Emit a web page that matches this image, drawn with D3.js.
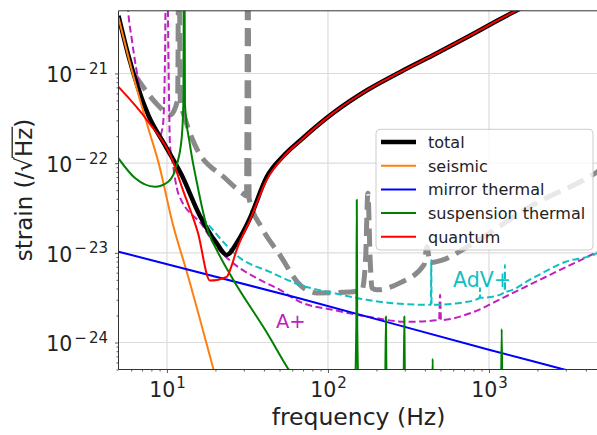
<!DOCTYPE html>
<html><head><meta charset="utf-8">
<script src="https://cdn.jsdelivr.net/npm/d3@7"></script>
<style>
body{margin:0;background:#fff}
svg{display:block}
text{font-family:"DejaVu Sans",sans-serif}
</style>
</head><body>
<svg id="c" width="597" height="435"></svg>
<script>
// ---------------- data (frequency in Hz, strain in 1/sqrt(Hz)) ----------------
const totalFreq   = [5, 5.75, 6.63, 7.66, 9.72, 12.34, 16.03, 20.35, 23.49, 27.1, 32.8, 41.6, 52.8, 67, 107.4, 174.6, 280, 449, 730, 1170, 1451, 5000];
const totalStrain = [4.4e-21, 1.6e-21, 6.81e-22, 3.44e-22, 1.59e-22, 7.37e-23, 2.58e-23, 1.28e-23, 9.47e-24, 1.29e-23, 2.45e-23, 7.0e-23, 1.2e-22, 1.78e-22, 3.61e-22, 6.5e-22, 1.034e-21, 1.6e-21, 2.54e-21, 4.03e-21, 4.94e-21, 1.6e-20];

const seismicFreq   = [5, 6.33, 7.66, 8.83, 10.94, 13.26, 19.4, 22];
const seismicStrain = [4.2e-21, 8.0e-22, 2.44e-22, 1.04e-22, 2.0e-23, 6.2e-24, 5.1e-25, 2.2e-25];

const mirrorFreq   = [5, 67, 1000, 2965, 5000];
const mirrorStrain = [1.03e-23, 3.1e-24, 8.3e-25, 4.97e-25, 3.88e-25];

const suspFreq   = [5, 6.33, 8.42, 10.19, 11.49, 12.34, 12.63, 12.8, 12.94, 13.9, 15.3, 18.05, 20.35, 25.8, 41.6, 56.7, 80, 130,
                    144, 150, 151, 152, 158, 195, 225.5, 229, 232.5, 270, 293.5, 298, 302.5, 380, 440.5, 447, 453.5, 800, 1182, 1200, 1218, 5000];
const suspStrain = [1.13e-22, 6.82e-23, 5.46e-23, 6.21e-23, 9.53e-23, 1.9e-22, 4.43e-22, 1e-19, 4.43e-22, 1.59e-22, 6.21e-23, 1.72e-23, 1.08e-23, 5.0e-24, 1.3e-24, 5.06e-25, 2e-25, 6e-26,
                    1e-25, 1.5e-24, 3.9e-23, 1.5e-24, 1e-25, 3e-26, 1e-25, 1.95e-24, 1e-25, 2e-26, 1e-25, 1.95e-24, 1e-25, 1e-26, 1e-25, 6.6e-25, 1e-25, 1e-26, 1e-25, 1.41e-24, 1e-25, 1e-26];

const quantumFreq   = [5, 7.66, 10.7, 12.57, 15.58, 18.5, 23.49, 25.3, 27.1, 32.8, 41.6, 52.8, 67, 107.4, 174.6, 280, 449, 730, 1170, 1451, 5000];
const quantumStrain = [7.1e-22, 2.89e-22, 1.13e-22, 5.0e-23, 1.67e-23, 4.9e-24, 5.4e-24, 7.34e-24, 1.08e-23, 2.32e-23, 6.5e-23, 1.17e-22, 1.76e-22, 3.61e-22, 6.5e-22, 1.034e-21, 1.6e-21, 2.54e-21, 4.03e-21, 4.94e-21, 1.6e-20];

const aplusFreq   = [5.6, 5.75, 6.04, 6.79, 7.83, 9.05, 9.44, 9.72, 9.93, 10.22, 10.44, 10.74, 11.75, 16.81, 19.87, 25.81, 37.8, 50.3, 67, 107.4, 174.6, 309.6, 490, 497, 504, 795.6, 1222, 2393, 4690, 5000];
const aplusStrain = [1e-20, 4.85e-21, 2.45e-21, 6.84e-22, 3.18e-22, 2.06e-22, 2.65e-22, 1.41e-21, 1e-19, 1.41e-21, 1.59e-22, 1.13e-22, 4.61e-23, 1.96e-23, 1.22e-23, 7.66e-24, 5.0e-24, 3.87e-24, 2.84e-24, 2.31e-24, 1.95e-24, 1.7e-24, 1.78e-24, 3.41e-24, 1.78e-24, 2.18e-24, 3.15e-24, 5.69e-24, 1.02e-23, 1.08e-23];

const advplusFreq   = [16.5, 18.5, 28.4, 43.6, 67, 107.4, 174.6, 280, 436, 438, 440, 730, 877, 879, 881, 1170, 1252, 1256, 1260, 1875, 2965, 4690, 5000];
const advplusStrain = [2.5e-23, 1.96e-23, 8.77e-24, 6.12e-24, 4.39e-24, 3.57e-24, 2.99e-24, 2.7e-24, 2.63e-24, 8.3e-24, 2.63e-24, 2.84e-24, 3.15e-24, 4.06e-24, 3.15e-24, 3.4e-24, 3.7e-24, 7.33e-24, 3.7e-24, 5.25e-24, 7.9e-24, 9.9e-24, 1.07e-23];

const grayFreq   = [6.33, 8.79, 10.44, 11.65, 11.87, 12.1, 12.94, 14.93, 22.92, 29.5, 31.2, 31.8, 32.4, 38.9, 50.3, 67, 85.4, 137, 162.6, 171, 177, 183, 187.5, 201.5, 280, 394.5, 412, 430, 518, 730, 1875, 4690, 5000];
const grayStrain = [9.57e-22, 4.43e-22, 3.43e-22, 5.04e-22, 1e-19, 5.04e-22, 3.17e-22, 1.59e-22, 6.82e-23, 4.6e-23, 4.3e-23, 1e-19, 4.0e-23, 1.89e-23, 9.46e-24, 4.39e-24, 3.57e-24, 3.66e-24, 3.87e-24, 8e-24, 4.62e-23, 8e-24, 4.06e-24, 3.87e-24, 4.62e-24, 7.33e-24, 1.17e-23, 7.8e-24, 8.34e-24, 1.16e-23, 3.42e-23, 7.96e-23, 8.6e-23];

const legendLabels = ["total", "seismic", "mirror thermal", "suspension thermal", "quantum"];
const xTickExps = [1, 2, 3];
const yTickExps = [-24, -23, -22, -21];
const xLabel = "frequency (Hz)";
const annotA = "A+";
const annotB = "AdV+";

// ---------------- layout ----------------
const P = {left: 118.5, right: 601.5, top: 10.8, bottom: 369.5};
const x = d3.scaleLog().domain([5, 5000]).range([P.left, P.right]);
const y = d3.scaleLog().domain([5e-25, 5e-21]).range([P.bottom, P.top]);
const svg = d3.select("#c");
const zip = (a, b) => a.map((v, i) => [v, b[i]]);

svg.append("defs").append("clipPath").attr("id", "clip")
  .append("rect").attr("x", P.left).attr("y", P.top)
  .attr("width", P.right - P.left).attr("height", P.bottom - P.top);

// grid
const xMaj = xTickExps.map(e => Math.pow(10, e));
const yMaj = yTickExps.map(e => Math.pow(10, e));
const grid = svg.append("g");
grid.selectAll("line.gx").data(xMaj).join("line")
  .attr("x1", d => x(d)).attr("x2", d => x(d)).attr("y1", P.top).attr("y2", P.bottom)
  .attr("stroke", "#dcdcdc").attr("stroke-width", 1.2);
grid.selectAll("line.gy").data(yMaj).join("line")
  .attr("y1", d => y(d)).attr("y2", d => y(d)).attr("x1", P.left).attr("x2", P.right)
  .attr("stroke", "#dcdcdc").attr("stroke-width", 1.2);

// curves
const line = d3.line().x(d => x(d[0])).y(d => y(d[1])).curve(d3.curveMonotoneX);
const plot = svg.append("g").attr("clip-path", "url(#clip)");
function draw(f, s, color, w, dash) {
  const p = plot.append("path").datum(zip(f, s)).attr("d", line)
    .attr("fill", "none").attr("stroke", color).attr("stroke-width", w)
    .attr("stroke-linejoin", "round");
  if (dash) p.attr("stroke-dasharray", dash);
  return p;
}
draw(grayFreq, grayStrain, "#8a8a8a", 5, "18,8");
draw(aplusFreq, aplusStrain, "#c020c0", 2, "7,3.5");
draw(advplusFreq, advplusStrain, "#10bfbf", 2, "7,3.5");
draw(totalFreq, totalStrain, "#000", 4.5);
draw(seismicFreq, seismicStrain, "#ff7f0e", 2);
draw(mirrorFreq, mirrorStrain, "#0000ff", 2);
draw(suspFreq, suspStrain, "#008000", 2);
draw(quantumFreq, quantumStrain, "#ff0000", 2);

// annotations
svg.append("text").attr("x", 276).attr("y", 328).attr("font-size", 19.5).attr("fill", "#c020c0").text(annotA);
svg.append("text").attr("x", 453).attr("y", 287).attr("font-size", 20.5).attr("fill", "#10bfbf").text(annotB);

// axes
const axCol = "#333";
function styleAxis(g) {
  g.select(".domain").remove();
  g.selectAll(".tick line").attr("stroke", axCol).attr("stroke-width", 0.8);
}
const xMinor = [], yMinor = [];
for (let e = 0; e <= 3; e++) for (let m = 2; m <= 9; m++) { const v = m * Math.pow(10, e); if (v > 5 && v < 5000) xMinor.push(v); }
for (let e = -25; e <= -22; e++) for (let m = 2; m <= 9; m++) { const v = m * Math.pow(10, e); if (v > 5e-25 && v < 5e-21) yMinor.push(v); }

const gxMin = svg.append("g").attr("transform", `translate(0,${P.bottom})`)
  .call(d3.axisBottom(x).tickValues(xMinor).tickSize(2).tickFormat(() => ""));
styleAxis(gxMin);
const gx = svg.append("g").attr("transform", `translate(0,${P.bottom})`)
  .call(d3.axisBottom(x).tickValues(xMaj).tickSize(3.5).tickFormat(() => ""));
styleAxis(gx);
gx.selectAll(".tick").each(function(d, i) {
  const t = d3.select(this).append("text").attr("y", 27.5).attr("text-anchor", "middle")
    .attr("fill", "#222").attr("font-size", 20.5);
  t.append("tspan").text("10");
  t.append("tspan").attr("font-size", 15).attr("dx", 1).attr("dy", -9).text(String(xTickExps[i]));
});
const gyMin = svg.append("g").attr("transform", `translate(${P.left},0)`)
  .call(d3.axisLeft(y).tickValues(yMinor).tickSize(2).tickFormat(() => ""));
styleAxis(gyMin);
const gy = svg.append("g").attr("transform", `translate(${P.left},0)`)
  .call(d3.axisLeft(y).tickValues(yMaj).tickSize(3.5).tickFormat(() => ""));
styleAxis(gy);
gy.selectAll(".tick").each(function(d, i) {
  const t = d3.select(this).append("text").attr("x", -10.5).attr("y", 8.4).attr("text-anchor", "end")
    .attr("fill", "#222").attr("font-size", 20.5);
  t.append("tspan").text("10");
  t.append("tspan").attr("font-size", 15).attr("dx", 2).attr("dy", -8.4).text("\u2212");
  t.append("tspan").attr("font-size", 15).attr("dx", 2).text(String(-yTickExps[i]));
});
// spines
svg.append("line").attr("x1", P.left).attr("x2", P.left).attr("y1", P.top).attr("y2", P.bottom).attr("stroke", axCol).attr("stroke-width", 1);
svg.append("line").attr("x1", P.left).attr("x2", P.right).attr("y1", P.bottom).attr("y2", P.bottom).attr("stroke", axCol).attr("stroke-width", 1);
svg.append("line").attr("x1", P.left).attr("x2", P.right).attr("y1", P.top).attr("y2", P.top).attr("stroke", axCol).attr("stroke-width", 1);

// axis labels
svg.append("text").attr("x", 358.5).attr("y", 425).attr("text-anchor", "middle")
  .attr("font-size", 23.5).attr("fill", "#222").text(xLabel);
const yl = svg.append("g").attr("transform", "translate(32,190) rotate(-90)");
const ylt = yl.append("text").attr("text-anchor", "middle").attr("font-size", 23).attr("fill", "#222");
ylt.append("tspan").text("strain (/\u221A");
ylt.append("tspan").text("Hz");
ylt.append("tspan").text(")");
{
  const n = ylt.node();
  const sq = n.getExtentOfChar(9);
  const hzEnd = n.getExtentOfChar(11);
  yl.append("line").attr("x1", sq.x + sq.width - 1).attr("x2", hzEnd.x + hzEnd.width + 1)
    .attr("y1", sq.y + 1.2).attr("y2", sq.y + 1.2).attr("stroke", "#222").attr("stroke-width", 1.3);
}

// legend
const leg = svg.append("g");
leg.append("rect").attr("x", 376).attr("y", 129.3).attr("width", 217).attr("height", 120.7).attr("rx", 4)
  .attr("fill", "#fff").attr("fill-opacity", 0.8).attr("stroke", "#cccccc").attr("stroke-width", 1);
const legColors = ["#000", "#ff7f0e", "#0000ff", "#008000", "#ff0000"];
const legW = [4.5, 2, 2, 2, 2];
legendLabels.forEach((lab, i) => {
  const yy = 142 + i * 23.7;
  leg.append("line").attr("x1", 381).attr("x2", 416).attr("y1", yy).attr("y2", yy)
    .attr("stroke", legColors[i]).attr("stroke-width", legW[i]);
  leg.append("text").attr("x", 428).attr("y", yy + 5.8).attr("font-size", 16).attr("fill", "#222").text(lab);
});
</script>
</body></html>
